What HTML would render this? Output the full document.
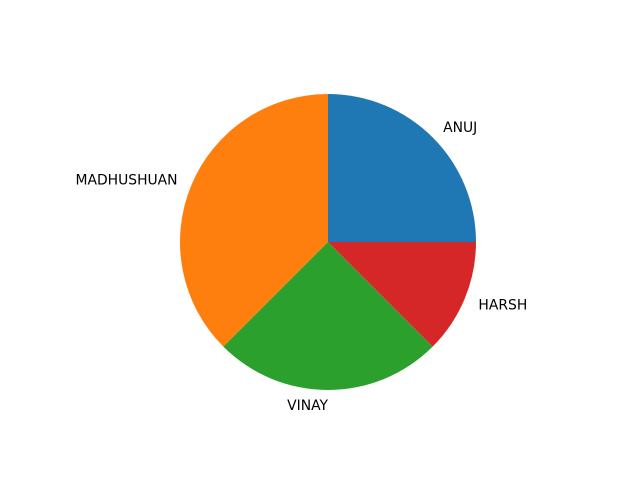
<!DOCTYPE html>
<html><head><meta charset="utf-8"><style>
html,body{margin:0;padding:0;background:#fff;}
svg{display:block;}
text{font-family:"DejaVu Sans","Liberation Sans",sans-serif;font-size:13.9px;fill:#000;}
</style></head><body>
<svg id="chart" width="640" height="480" viewBox="0 0 640 480" xmlns="http://www.w3.org/2000/svg"></svg>
<script>
const categories = ["ANUJ", "MADHUSHUAN", "VINAY", "HARSH"];
const values = [2, 3, 2, 1];
const colors = ["#1f77b4", "#ff7f0e", "#2ca02c", "#d62728"];

const svg = document.getElementById('chart');
const NS = 'http://www.w3.org/2000/svg';
const cx = 328, cy = 242, r = 148;
const total = values.reduce((a, b) => a + b, 0);
let start = 0;
values.forEach((v, i) => {
  const sweep = v / total * 2 * Math.PI;
  const a0 = start, a1 = start + sweep;
  const x0 = cx + r * Math.cos(a0), y0 = cy - r * Math.sin(a0);
  const x1 = cx + r * Math.cos(a1), y1 = cy - r * Math.sin(a1);
  const large = sweep > Math.PI ? 1 : 0;
  const p = document.createElementNS(NS, 'path');
  p.setAttribute('d', `M${cx},${cy} L${x0},${y0} A${r},${r} 0 ${large} 0 ${x1},${y1} Z`);
  p.setAttribute('fill', colors[i]);
  
  
  svg.appendChild(p);
  const mid = (a0 + a1) / 2;
  const lx = cx + 1.1 * r * Math.cos(mid), ly = cy - 1.1 * r * Math.sin(mid) + 1;
  const t = document.createElementNS(NS, 'text');
  t.setAttribute('x', lx);
  t.setAttribute('y', ly);
  t.setAttribute('dominant-baseline', 'central');
  t.setAttribute('text-anchor', Math.cos(mid) > 0.001 ? 'start' : 'end');
  t.textContent = categories[i];
  
  
  svg.appendChild(t);
  start = a1;
});
</script>
</body></html>
